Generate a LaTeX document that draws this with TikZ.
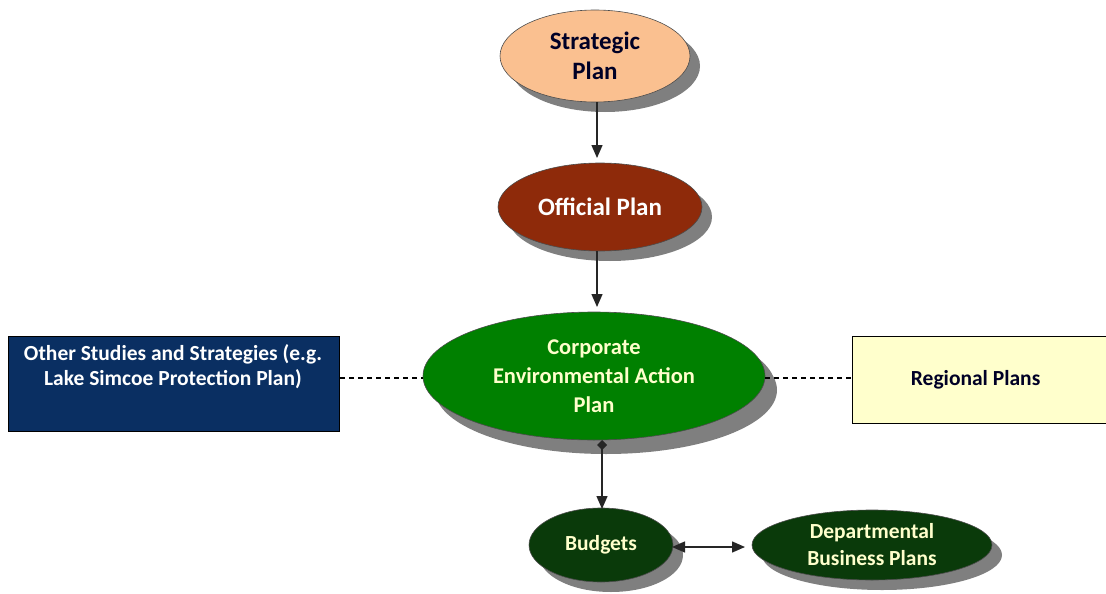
\documentclass[tikz,border=0pt]{standalone}
\usepackage{fontspec}
\setmainfont{Carlito}
\usetikzlibrary{shapes.geometric,arrows.meta,shadows}
\definecolor{peach}{HTML}{FAC090}
\definecolor{brownred}{HTML}{8E2A0A}
\definecolor{midgreen}{HTML}{008000}
\definecolor{darkgreen}{HTML}{0A3A0A}
\definecolor{navybox}{HTML}{0A2F62}
\definecolor{paleyellow}{HTML}{FFFFCC}
\definecolor{shadowgray}{HTML}{7F7F7F}
\tikzset{
  ell/.style={ellipse, draw=black!70, line width=0.6pt, inner sep=0pt, align=center, font=\bfseries,
     drop shadow={shadow xshift=10pt, shadow yshift=-10pt, fill=shadowgray, opacity=1}},
  rectbox/.style={rectangle, draw=black, line width=1.2pt, inner sep=0pt, font=\bfseries, align=center},
  tip/.tip={Triangle[length=13pt,width=11pt]},
  arr/.style={-tip, line width=1.4pt, black!85},
  dashline/.style={line width=1.2pt, dash pattern=on 5pt off 4pt},
}
\begin{document}
\begin{tikzpicture}[x=1pt,y=-1pt]
\useasboundingbox (0,0) rectangle (1106,594);
\node[ell, fill=peach, minimum width=190pt, minimum height=92pt, font=\bfseries\fontsize{25}{30}\selectfont, text=black!85!blue] (sp) at (595,56) {Strategic\\Plan};
\node[ell, fill=brownred, minimum width=204pt, minimum height=88pt, font=\bfseries\fontsize{25}{30}\selectfont, text=white] (op) at (600,207) {Official Plan};
\node[ell, fill=midgreen, minimum width=342pt, minimum height=128pt, font=\bfseries\fontsize{22.5}{29}\selectfont, text=paleyellow,
   drop shadow={shadow xshift=12pt, shadow yshift=-14pt, fill=shadowgray, opacity=1}] (ce) at (594,376) {Corporate\\Environmental Action\\Plan};
\node[ell, fill=darkgreen, minimum width=144pt, minimum height=74pt, font=\bfseries\fontsize{21.5}{27}\selectfont, text=paleyellow] (bu) at (601,545) {Budgets};
\node[ell, fill=darkgreen, minimum width=240pt, minimum height=70pt, font=\bfseries\fontsize{21.5}{27}\selectfont, text=paleyellow] (dp) at (872,545) {Departmental\\Business Plans};
\node[rectbox, fill=navybox, minimum width=331pt, minimum height=95pt, anchor=north west, text=white] (os) at (8,336) {};
\node[font=\bfseries\fontsize{21.5}{25}\selectfont, text=white, align=center] (ost) at (173,367) {Other Studies and Strategies (e.g.\\Lake Simcoe Protection Plan)};
\node[rectbox, fill=paleyellow, minimum width=262pt, minimum height=87pt, anchor=north west, font=\bfseries\fontsize{21.5}{26}\selectfont, text=black!85!blue] (rp) at (852,336) {\hspace*{-16pt}Regional Plans};
\coordinate (spb) at (597,102);
\coordinate (opt) at (597,158);
\draw[arr] (spb) -- (opt);
\coordinate (opb) at (597,251);
\coordinate (cet) at (597,307);
\draw[arr] (opb) -- (cet);
\coordinate (ceb) at (602,440);
\coordinate (but) at (602,509);
\draw[{Diamond[length=10pt,width=10pt]}-tip, line width=1.4pt, black!85] (ceb) -- (but);
\coordinate (bur) at (672,547);
\coordinate (dpl) at (745,547);
\draw[tip-tip, line width=1.4pt, black!85] (bur) -- (dpl);
\draw[dashline] (os.east |- 0,378) -- (ce.west |- 0,378);
\draw[dashline] (ce.east |- 0,378) -- (rp.west |- 0,378);
\end{tikzpicture}
\end{document}
